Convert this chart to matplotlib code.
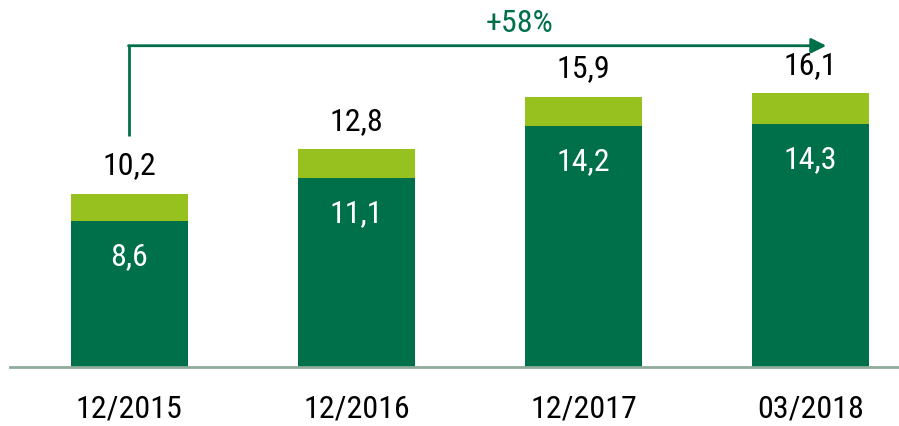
import matplotlib
matplotlib.use("Agg")
import matplotlib.pyplot as plt
from matplotlib import font_manager

categories = ["12/2015", "12/2016", "12/2017", "03/2018"]
dark_values = [8.6, 11.1, 14.2, 14.3]
total_values = [10.2, 12.8, 15.9, 16.1]
growth_label = "+58%"

names = {f.name for f in font_manager.fontManager.ttflist}
fam = "Roboto"
for cand in ["Roboto Condensed", "Open Sans Condensed", "Liberation Sans Narrow",
             "Noto Sans Condensed", "DejaVu Sans Condensed", "Roboto"]:
    if cand in names:
        fam = cand
        break
plt.rcParams['font.family'] = [fam, 'DejaVu Sans']

DARK = "#00704a"
LIGHT = "#97c11f"

fig = plt.figure(figsize=(8.99, 4.26), dpi=100)
ax = fig.add_axes([0, 0, 1, 1])
ax.set_xlim(-0.570, -0.570 + 899 / 227)
ax.set_ylim(-3.47, 21.59)
ax.axis("off")

x = list(range(len(categories)))
light_values = [t - d for t, d in zip(total_values, dark_values)]
w = 0.515
ax.bar(x, dark_values, width=w, color=DARK, zorder=2)
ax.bar(x, light_values, width=w, bottom=dark_values, color=LIGHT, zorder=2)

ax.axhline(0, xmin=10 / 899, xmax=1, color="#8fab9b", lw=2, zorder=3)

for i, (d, t, c) in enumerate(zip(dark_values, total_values, categories)):
    ax.text(i, t + 1.65, f"{t:.1f}".replace(".", ","), ha="center", va="center",
            fontsize=23, color="black")
    ax.text(i, d - 2.1, f"{d:.1f}".replace(".", ","), ha="center", va="center",
            fontsize=23, color="white")
    ax.text(i, -2.45, c, ha="center", va="center", fontsize=23, color="black")

y0 = total_values[0] + 3.4
ytop = max(total_values) + 2.8
ax.plot([0, 0], [y0, ytop], color=DARK, lw=2, solid_capstyle="butt")
ax.annotate("", xy=(3.07, ytop), xytext=(0 - 0.004, ytop),
            arrowprops=dict(arrowstyle="-|>,head_length=0.9,head_width=0.45",
                            color=DARK, lw=2, shrinkA=0, shrinkB=0))
ax.text(1.72, ytop + 1.3, growth_label, ha="center", va="center",
        fontsize=23, color=DARK)

fig.savefig("out.png", dpi=100)
